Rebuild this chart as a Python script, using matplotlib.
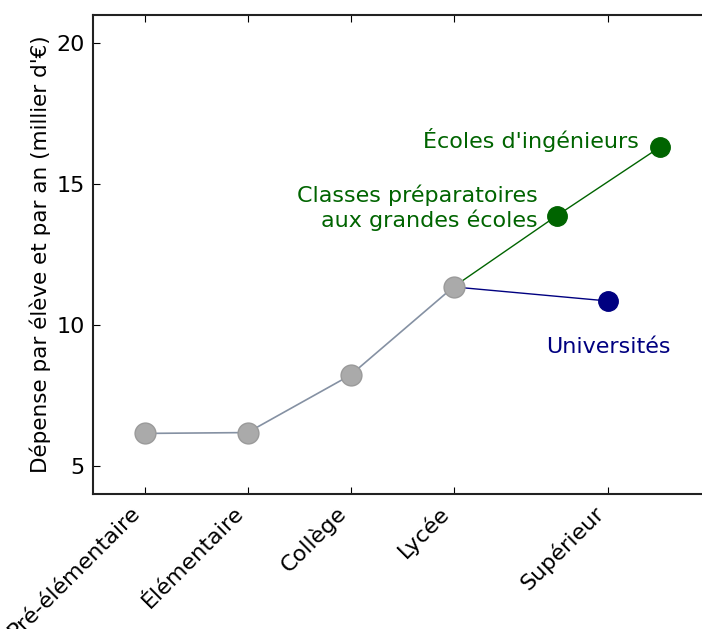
import matplotlib
matplotlib.use('Agg')
import matplotlib.pyplot as plt

# niveaux communs
niveaux_x = [0, 1, 2, 3]
niveaux_y = [6.15, 6.18, 8.22, 11.35]

# branches du supérieur
prepa_x = [3, 4, 5]
prepa_y = [11.35, 13.87, 16.3]
univ_x = [3, 4.5]
univ_y = [11.35, 10.85]

tick_pos = [0, 1, 2, 3, 4.5]
tick_labels = ['Pré-élémentaire', 'Élémentaire', 'Collège', 'Lycée', 'Supérieur']

fig = plt.figure(figsize=(7.02, 6.29), dpi=100)
ax = fig.add_axes([93 / 702, 135 / 629, 618 / 702, 479 / 629])

vert = '#006400'
bleu = '#000080'

ax.plot(prepa_x[:2], prepa_y[:2], color=vert, lw=1, zorder=1)
ax.plot(prepa_x[1:], prepa_y[1:], color=vert, lw=1, marker='o', ms=14,
        markevery=[0, 1], mec=vert, mfc=vert, zorder=2)
ax.plot(univ_x, univ_y, color=bleu, lw=1, zorder=1)
ax.plot(univ_x[1:], univ_y[1:], 'o', color=bleu, ms=14, zorder=2)
ax.plot(niveaux_x, niveaux_y, color='#8591a3', lw=1.2, marker='o', ms=15,
        mfc='#aaaaaa', mec='#9a9a9a', zorder=3)

ax.text(4.8, 16.56, "Écoles d'ingénieurs", color=vert, fontsize=16,
        ha='right', va='center')
ax.text(3.82, 14.15, "Classes préparatoires\naux grandes écoles", color=vert,
        fontsize=16, ha='right', va='center', multialignment='right')
ax.text(4.5, 9.22, "Universités", color=bleu, fontsize=16, ha='center', va='center')

ax.set_xlim(-0.5, 5.5)
ax.set_ylim(4, 21)
ax.set_yticks([5, 10, 15, 20])
ax.set_xticks(tick_pos)
ax.set_xticklabels(tick_labels, rotation=45, ha='right')
ax.tick_params(direction='in', top=True, right=True, labelsize=16, length=5,
               width=0.8, pad=6)
ax.set_ylabel("Dépense par élève et par an (millier d'€)", fontsize=15.5)
for s in ax.spines.values():
    s.set_linewidth(1.5)
    s.set_color('#222222')

fig.savefig('out.png', dpi=100)
